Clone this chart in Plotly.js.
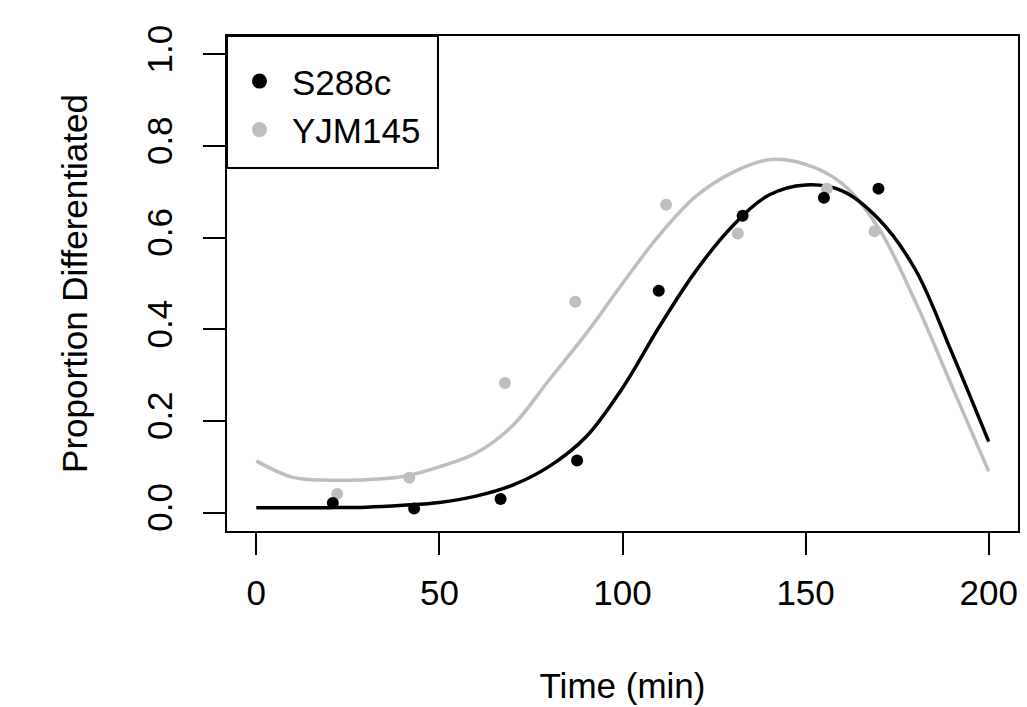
<!DOCTYPE html>
<html>
<head>
<meta charset="utf-8">
<script src="https://cdn.plot.ly/plotly-3.0.1.min.js"></script>
<style>html,body{margin:0;padding:0;background:#fff;}#chart{width:1027px;height:707px;}</style>
</head>
<body>
<div id="chart"></div>
<script>
// Observed proportions
var s288cTime = [20.9, 43.1, 66.7, 87.6, 109.9, 132.8, 155.0, 169.9];
var s288cProp = [0.021, 0.009, 0.030, 0.114, 0.484, 0.648, 0.687, 0.707];
var yjmTime = [22.1, 41.8, 67.9, 87.1, 111.9, 131.5, 155.8, 168.8];
var yjmProp = [0.041, 0.076, 0.283, 0.460, 0.672, 0.609, 0.707, 0.614];

// Fitted curves
var fitTime = [0, 10, 20, 30, 40, 50, 60, 70, 80, 90, 100, 110, 120, 130, 140, 150, 160, 170, 180, 190, 200];
var s288cFit = [0.011, 0.011, 0.011, 0.012, 0.016, 0.022, 0.036, 0.060, 0.101, 0.165, 0.272, 0.405, 0.527, 0.625, 0.693, 0.715, 0.702, 0.640, 0.530, 0.348, 0.155];
var yjmFit = [0.113, 0.077, 0.071, 0.072, 0.079, 0.100, 0.130, 0.190, 0.290, 0.390, 0.500, 0.605, 0.690, 0.742, 0.770, 0.760, 0.718, 0.620, 0.460, 0.275, 0.090];

var xTicks = [0, 50, 100, 150, 200];
var yTicks = [0.0, 0.2, 0.4, 0.6, 0.8, 1.0];
var yTickText = ["0.0", "0.2", "0.4", "0.6", "0.8", "1.0"];

var BLACK = "#000000", GRAY = "#BEBEBE";
var FONT = "Liberation Sans, Arial, sans-serif";

var traces = [
  {x: fitTime, y: yjmFit, mode: "lines", line: {color: GRAY, width: 3.5, shape: "spline"}, showlegend: false, hoverinfo: "skip"},
  {x: fitTime, y: s288cFit, mode: "lines", line: {color: BLACK, width: 3.5, shape: "spline"}, showlegend: false, hoverinfo: "skip"},
  {x: yjmTime, y: yjmProp, mode: "markers", marker: {color: GRAY, size: 12}, showlegend: false},
  {x: s288cTime, y: s288cProp, mode: "markers", marker: {color: BLACK, size: 12}, showlegend: false},
  {x: [null], y: [null], name: "S288c", mode: "markers", marker: {color: BLACK, size: 15}},
  {x: [null], y: [null], name: "YJM145", mode: "markers", marker: {color: GRAY, size: 15}}
];

var layout = {
  width: 1027, height: 707,
  margin: {l: 227, r: 9, t: 36, b: 176},
  paper_bgcolor: "#fff", plot_bgcolor: "#fff",
  font: {family: FONT, size: 35, color: "#000"},
  showlegend: true,
  legend: {x: 0, y: 0.968, xanchor: "left", yanchor: "top", bgcolor: "rgba(0,0,0,0)", borderwidth: 0,
           font: {family: FONT, size: 35, color: "#000"}, itemwidth: 55, traceorder: "normal"},
  xaxis: {
    range: [-8, 208], tickmode: "array", tickvals: xTicks, ticktext: xTicks.map(String),
    ticks: "outside", ticklen: 22, tickwidth: 2, tickcolor: "#000", ticklabelstandoff: 8,
    showline: true, linewidth: 2, linecolor: "#000", mirror: true,
    showgrid: false, zeroline: false,
    tickfont: {family: FONT, size: 35, color: "#000"},
    title: {text: "Time (min)", font: {family: FONT, size: 35, color: "#000"}, standoff: 62}
  },
  yaxis: {
    range: [-0.04, 1.04], tickmode: "array", tickvals: yTicks, ticktext: yTickText, tickangle: -90,
    ticks: "outside", ticklen: 22, tickwidth: 2, tickcolor: "#000", ticklabelstandoff: 17,
    showline: true, linewidth: 2, linecolor: "#000", mirror: true,
    showgrid: false, zeroline: false,
    tickfont: {family: FONT, size: 35, color: "#000"},
    title: {text: "Proportion Differentiated", font: {family: FONT, size: 35, color: "#000"}, standoff: 42}
  },
  shapes: [
    {type: "rect", xref: "paper", yref: "paper", x0: 0, x1: 211/791, y0: 1 - 132/495, y1: 1,
     line: {color: "#000", width: 2}, fillcolor: "rgba(0,0,0,0)"}
  ]
};

Plotly.newPlot("chart", traces, layout, {displayModeBar: false, staticPlot: true});
</script>
</body>
</html>
